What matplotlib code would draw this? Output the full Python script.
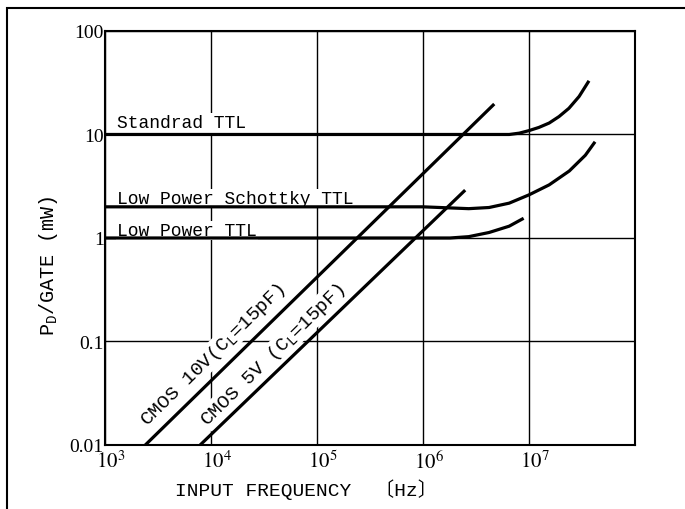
import matplotlib
matplotlib.use("Agg")
import matplotlib.pyplot as plt
import matplotlib.transforms as mtrans
from matplotlib.patches import Rectangle

plt.rcParams['mathtext.fontset'] = 'custom'
plt.rcParams['mathtext.rm'] = 'Liberation Mono'
plt.rcParams['mathtext.it'] = 'Liberation Mono'

MONO = ['Liberation Mono', 'Noto Sans CJK JP']
SERIF = 'Liberation Serif'

# data (Hz, mW)
std_f = [1e3, 6.5e6, 8.1e6, 1.0e7, 1.24e7, 1.55e7, 1.92e7, 2.38e7, 2.97e7, 3.68e7]
std_p = [10, 10, 10.3, 10.9, 11.7, 12.9, 14.9, 17.9, 23.3, 33.0]
lps_f = [1e3, 1e6, 2.7e6, 4.2e6, 6.5e6, 1.0e7, 1.55e7, 2.4e7, 3.4e7, 4.2e7]
lps_p = [2.0, 2.0, 1.92, 1.97, 2.17, 2.61, 3.26, 4.44, 6.3, 8.5]
lp_f = [1e3, 1.8e6, 2.7e6, 4.2e6, 6.5e6, 8.9e6]
lp_p = [1.0, 1.0, 1.03, 1.13, 1.30, 1.55]
cmos10_f = [2.4e3, 4.7e6]
cmos10_p = [0.01, 19.7]
cmos5_f = [7.9e3, 2.5e6]
cmos5_p = [0.01, 2.9]

xticks = [1e3, 1e4, 1e5, 1e6, 1e7, 1e8]
xlabels = ['$10^{3}$', '$10^{4}$', '$10^{5}$', '$10^{6}$', '$10^{7}$', '']
yticks = [0.01, 0.1, 1, 10, 100]
ylabels = ['0.01', '0.1', '1', '10', '100']

fig = plt.figure(figsize=(6.85, 5.1), dpi=100)
ax = fig.add_axes([0.1533, 0.1255, 0.7737, 0.8118])
ax.set_xscale('log')
ax.set_yscale('log')
ax.set_xlim(1e3, 1e8)
ax.set_ylim(0.01, 100)

ax.set_xticks(xticks)
ax.set_xticklabels(xlabels)
ax.set_yticks(yticks)
ax.set_yticklabels(ylabels)
ax.minorticks_off()
ax.tick_params(axis='x', length=0, pad=3)
ax.tick_params(axis='y', length=0, pad=1)
shift = mtrans.ScaledTranslation(6 / 100, 0, fig.dpi_scale_trans)
for lab in ax.get_xticklabels():
    lab.set_math_fontfamily('stix')
    lab.set_fontsize(15)
    lab.set_transform(lab.get_transform() + shift)
for lab in ax.get_yticklabels():
    lab.set_fontfamily(SERIF)
    lab.set_fontsize(14)
ax.grid(True, color='black', linewidth=1.0, zorder=1)
ax.set_axisbelow(True)
for s in ax.spines.values():
    s.set_linewidth(1.5)

lw = 2.3
ax.plot(std_f, std_p, color='black', lw=lw, zorder=4, solid_capstyle='butt')
ax.plot(lps_f, lps_p, color='black', lw=lw, zorder=4, solid_capstyle='butt')
ax.plot(lp_f, lp_p, color='black', lw=lw, zorder=4, solid_capstyle='butt')
ax.plot(cmos10_f, cmos10_p, color='black', lw=lw, zorder=4, solid_capstyle='butt')
ax.plot(cmos5_f, cmos5_p, color='black', lw=lw, zorder=4, solid_capstyle='butt')

box = dict(facecolor='white', edgecolor='none', pad=1)
ax.text(1.3e3, 11.7, 'Standrad TTL', family=MONO, fontsize=13, va='baseline', bbox=box, zorder=3)
ax.text(1.3e3, 2.18, 'Low Power Schottky TTL', family=MONO, fontsize=13, va='baseline', bbox=box, zorder=3)
ax.text(1.3e3, 1.07, 'Low Power TTL', family=MONO, fontsize=13, va='baseline', bbox=box, zorder=3)
ax.text(10**4.02, 10**-1.12, r'CMOS 10V(C$_\mathrm{L}$=15pF)', family=MONO, fontsize=14,
        rotation=44.5, rotation_mode='anchor', ha='center', va='center', bbox=box, zorder=3)
ax.text(10**4.59, 10**-1.12, r'CMOS 5V (C$_\mathrm{L}$=15pF)', family=MONO, fontsize=14,
        rotation=44.5, rotation_mode='anchor', ha='center', va='center', bbox=box, zorder=3)

fig.text(48 / 685, 1 - 266 / 510, r'P$_\mathrm{D}$/GATE (mW)', family=MONO, fontsize=14.5,
         rotation=90, ha='center', va='center')
fig.text(175 / 685, 1 - 490 / 510, 'INPUT FREQUENCY  〔Hz〕', family=MONO, fontsize=14,
         ha='left', va='center')

fig.patches.append(Rectangle((7 / 685, -0.05), 1.1, 1 - 9 / 510 + 0.05, transform=fig.transFigure,
                             fill=False, edgecolor='black', linewidth=1.5))

fig.savefig('out.png', dpi=100)
